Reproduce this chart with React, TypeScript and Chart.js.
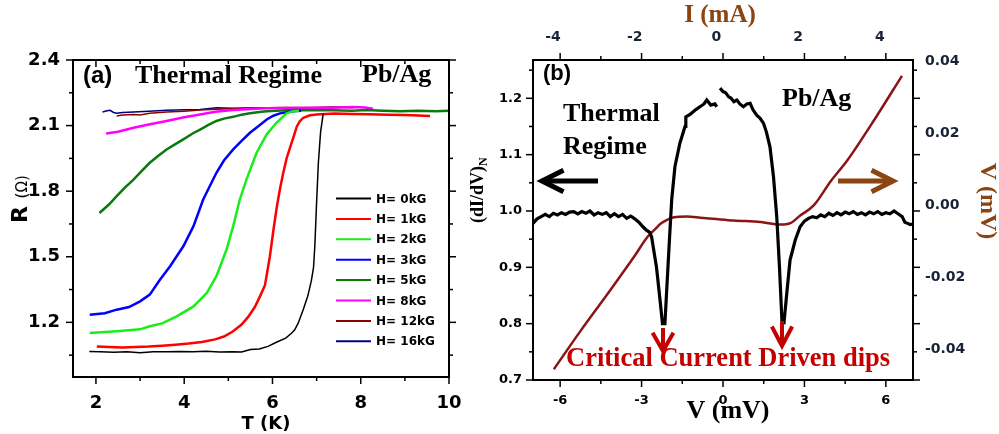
import React, { useEffect, useRef } from "react";
import { Chart, registerables } from "chart.js";
Chart.register(...registerables);

// ---------------- Panel (a): R(T) for several fields ----------------
const FIELD_LABELS = ["H= 0kG", "H= 1kG", "H= 2kG", "H= 3kG", "H= 5kG", "H= 8kG", "H= 12kG", "H= 16kG"];

const T_H0 = [1.85, 2.1, 2.4, 2.7, 3.0, 3.3, 3.6, 3.9, 4.2, 4.5, 4.8, 5.1, 5.3, 5.5, 5.7, 5.9, 6.1, 6.3, 6.43, 6.5, 6.58, 6.7, 6.8, 6.88, 6.93, 6.96, 7.0, 7.04, 7.09, 7.15];
const R_H0 = [1.067, 1.066, 1.063, 1.066, 1.061, 1.066, 1.065, 1.067, 1.066, 1.068, 1.064, 1.066, 1.064, 1.076, 1.078, 1.09, 1.11, 1.128, 1.15, 1.165, 1.195, 1.26, 1.32, 1.39, 1.45, 1.55, 1.75, 1.93, 2.07, 2.155];

const T_H1 = [2.02, 2.3, 2.6, 2.9, 3.2, 3.5, 3.8, 4.1, 4.4, 4.7, 4.9, 5.1, 5.3, 5.45, 5.6, 5.72, 5.83, 5.94, 6.02, 6.1, 6.17, 6.24, 6.32, 6.4, 6.48, 6.55, 6.62, 6.7, 6.85, 7.0, 7.4, 7.8, 8.2, 8.6, 9.0, 9.3, 9.57];
const R_H1 = [1.09, 1.087, 1.085, 1.087, 1.089, 1.093, 1.098, 1.103, 1.11, 1.122, 1.135, 1.158, 1.19, 1.225, 1.27, 1.32, 1.37, 1.5, 1.62, 1.73, 1.81, 1.88, 1.95, 2.0, 2.05, 2.095, 2.12, 2.136, 2.147, 2.151, 2.155, 2.153, 2.152, 2.15, 2.148, 2.146, 2.144];

const T_H2 = [1.86, 2.47, 3.0, 3.22, 3.5, 3.83, 4.21, 4.51, 4.73, 4.96, 5.11, 5.26, 5.41, 5.64, 5.87, 6.09, 6.32, 6.47, 6.6];
const R_H2 = [1.151, 1.159, 1.168, 1.182, 1.195, 1.227, 1.273, 1.334, 1.411, 1.533, 1.64, 1.762, 1.853, 1.976, 2.06, 2.113, 2.156, 2.166, 2.168];

const T_H3 = [1.86, 2.2, 2.47, 2.75, 3.0, 3.22, 3.45, 3.68, 3.98, 4.21, 4.43, 4.73, 4.9, 5.11, 5.3, 5.49, 5.7, 5.87, 6.02, 6.17, 6.47, 6.65];
const R_H3 = [1.235, 1.242, 1.258, 1.27, 1.296, 1.327, 1.395, 1.457, 1.548, 1.64, 1.762, 1.884, 1.94, 1.991, 2.03, 2.067, 2.1, 2.128, 2.145, 2.156, 2.166, 2.168];

const T_H5 = [2.08, 2.3, 2.47, 2.65, 2.85, 3.05, 3.22, 3.4, 3.6, 3.8, 3.98, 4.2, 4.36, 4.55, 4.73, 4.9, 5.11, 5.3, 5.49, 5.7, 5.87, 6.3, 6.62, 7.0, 7.38, 7.8, 8.13, 8.5, 8.89, 9.3, 9.7, 10.0];
const R_H5 = [1.7, 1.74, 1.777, 1.815, 1.853, 1.895, 1.93, 1.96, 1.991, 2.015, 2.037, 2.065, 2.082, 2.103, 2.121, 2.132, 2.14, 2.15, 2.156, 2.162, 2.166, 2.17, 2.171, 2.17, 2.17, 2.168, 2.171, 2.168, 2.166, 2.168, 2.166, 2.168];

const T_H8 = [2.23, 2.5, 2.85, 3.2, 3.6, 4.0, 4.36, 4.7, 5.11, 5.5, 5.87, 6.3, 6.62, 7.0, 7.38, 7.83, 8.1, 8.28];
const R_H8 = [2.064, 2.072, 2.09, 2.105, 2.121, 2.138, 2.151, 2.163, 2.171, 2.176, 2.179, 2.181, 2.182, 2.182, 2.182, 2.185, 2.183, 2.177];

const T_H12 = [2.47, 2.6, 2.85, 3.0, 3.22, 3.6, 4.0, 4.36, 4.7, 5.11, 5.5, 5.87, 6.3, 6.62, 7.0, 7.38, 7.83];
const R_H12 = [2.144, 2.148, 2.151, 2.148, 2.156, 2.162, 2.166, 2.171, 2.175, 2.177, 2.18, 2.182, 2.183, 2.182, 2.183, 2.185, 2.182];

const T_H16 = [2.15, 2.25, 2.32, 2.4, 2.47, 2.6, 2.85, 3.2, 3.6, 4.0, 4.36, 4.73, 5.11, 5.5, 5.87, 6.3, 6.62, 7.0, 7.38, 7.76];
const R_H16 = [2.162, 2.168, 2.17, 2.16, 2.156, 2.16, 2.162, 2.166, 2.17, 2.172, 2.174, 2.182, 2.179, 2.181, 2.182, 2.182, 2.182, 2.182, 2.183, 2.185];

const T_TICKS = [2, 4, 6, 8, 10];
const T_MINOR = [3, 5, 7, 9];
const R_TICKS = [1.2, 1.5, 1.8, 2.1, 2.4];
const R_MINOR = [1.05, 1.35, 1.65, 1.95, 2.25];

// ---------------- Panel (b): conductance and I-V ----------------
const V_COND = [-7.0, -6.85, -6.7, -6.55, -6.4, -6.25, -6.1, -5.95, -5.8, -5.65, -5.5, -5.35, -5.2, -5.05, -4.9, -4.75, -4.6, -4.45, -4.3, -4.15, -4.0, -3.85, -3.7, -3.55, -3.4, -3.25, -3.1, -2.95, -2.82, -2.7, -2.63, -2.55, -2.45, -2.32, -2.23, -2.14, -2.08, -1.98, -1.89, -1.77, -1.59, -1.45, -1.4, -1.37, -1.2, -1.0, -0.85, -0.7, -0.6, -0.45, -0.3, -0.23, -0.17, -0.11, 0.0, 0.1, 0.2, 0.3, 0.4, 0.51, 0.62, 0.75, 0.88, 1.0, 1.1, 1.24, 1.36, 1.49, 1.6, 1.73, 1.86, 1.98, 2.08, 2.17, 2.25, 2.35, 2.47, 2.66, 2.84, 3.0, 3.15, 3.3, 3.45, 3.6, 3.75, 3.9, 4.05, 4.2, 4.35, 4.5, 4.65, 4.8, 4.95, 5.1, 5.25, 5.4, 5.55, 5.7, 5.85, 6.0, 6.15, 6.3, 6.45, 6.6, 6.7, 6.8, 6.9, 7.0];
const G_COND = [0.978, 0.986, 0.99, 0.994, 0.99, 0.996, 0.993, 0.997, 0.994, 0.998, 0.999, 0.995, 0.999, 0.996, 1.0, 0.993, 0.997, 0.994, 0.997, 0.99, 0.995, 0.99, 0.994, 0.987, 0.991, 0.986, 0.98, 0.972, 0.966, 0.962, 0.954, 0.93, 0.9, 0.842, 0.8, 0.8, 0.854, 0.943, 1.02, 1.079, 1.12, 1.142, 1.15, 1.167, 1.172, 1.18, 1.185, 1.19, 1.197, 1.188, 1.19, 1.185, null, 1.218, 1.212, 1.21, 1.203, 1.2, 1.194, 1.197, 1.19, 1.185, 1.19, 1.191, 1.18, 1.17, 1.165, 1.156, 1.14, 1.114, 1.061, 0.99, 0.901, 0.806, 0.803, 0.854, 0.913, 0.948, 0.972, 0.982, 0.987, 0.99, 0.988, 0.993, 0.99, 0.996, 0.992, 0.997, 0.993, 0.998, 0.995, 0.999, 0.994, 0.997, 0.993, 0.998, 0.995, 0.999, 0.994, 0.997, 0.995, 1.0, 0.995, 0.99, 0.98, 0.978, 0.976, 0.977];

const I_IV = [-3.98, -3.3, -2.6, -2.0, -1.69, -1.5, -1.37, -1.21, -1.04, -0.72, -0.39, 0.0, 0.42, 1.08, 1.56, 1.81, 2.05, 2.38, 2.8, 3.2, 3.9, 4.54];
const V_IV = [-0.0456, -0.0345, -0.0236, -0.014, -0.0088, -0.0066, -0.0051, -0.004, -0.0033, -0.0031, -0.0034, -0.0038, -0.0042, -0.0046, -0.0053, -0.0049, -0.0028, 0.0, 0.0068, 0.0125, 0.0245, 0.0361];

const V_TICKS = [-6, -3, 0, 3, 6];
const V_MINOR = [-4.5, -1.5, 1.5, 4.5];
const G_TICKS = [0.7, 0.8, 0.9, 1.0, 1.1, 1.2];
const G_MINOR = [0.75, 0.85, 0.95, 1.05, 1.15, 1.25];
const I_TICKS = [-4, -2, 0, 2, 4];
const VOUT_TICKS = [-0.04, -0.02, 0, 0.02, 0.04];

// ---------------- styles ----------------
const COLORS_A = ["#000000", "#ff0000", "#1aee1a", "#0000ff", "#0a7a0a", "#ff00ff", "#8b0000", "#000080"];
const WIDTHS_A = [1.5, 2.5, 2.5, 2.5, 2.5, 2.5, 1.5, 1.5];
const SANS = '"DejaVu Sans", sans-serif';
const ARIAL = '"Liberation Sans", Arial, sans-serif';
const SERIF = '"Liberation Serif", "Times New Roman", serif';
const BROWN = "#8B4513";
const IV_COLOR = "#8c1414";
const DARK_LABEL = "#1a2238";
const RED_TXT = "#c40000";
const OFF_B = 455;

const ticksAt = (vals: number[]) => (s: any) => {
  s.ticks = vals.map((v) => ({ value: v }));
};
const fixW = (w: number) => (s: any) => {
  s.width = w;
};
const fixH = (h: number) => (s: any) => {
  s.height = h;
};

function line(ctx: CanvasRenderingContext2D, x1: number, y1: number, x2: number, y2: number) {
  ctx.beginPath();
  ctx.moveTo(x1, y1);
  ctx.lineTo(x2, y2);
  ctx.stroke();
}

function frameTicks(
  chart: any,
  xs: any,
  ys: any,
  xMaj: number[],
  xMin: number[],
  yMaj: number[],
  yMin: number[],
  topDir: number
) {
  const ctx: CanvasRenderingContext2D = chart.ctx;
  const a = chart.chartArea;
  ctx.save();
  ctx.strokeStyle = "#000";
  ctx.lineWidth = 2;
  ctx.strokeRect(a.left, a.top, a.right - a.left, a.bottom - a.top);
  ctx.lineWidth = 1.5;
  const doX = (vals: number[], len: number) => {
    for (const v of vals) {
      const p = xs.getPixelForValue(v);
      line(ctx, p, a.bottom, p, a.bottom + len);
      line(ctx, p, a.top, p, a.top - topDir * len);
    }
  };
  const doY = (vals: number[], len: number) => {
    for (const v of vals) {
      const p = ys.getPixelForValue(v);
      line(ctx, a.left, p, a.left - len, p);
      line(ctx, a.right, p, a.right + len, p);
    }
  };
  doX(xMaj, 7);
  doX(xMin, 4);
  doY(yMaj, 7);
  doY(yMin, 4);
  ctx.restore();
}

function arrow(ctx: CanvasRenderingContext2D, x1: number, y1: number, x2: number, y2: number, head: number, spread: number, color: string, lw: number) {
  const ang = Math.atan2(y2 - y1, x2 - x1);
  ctx.save();
  ctx.strokeStyle = color;
  ctx.lineWidth = lw;
  ctx.lineCap = "butt";
  ctx.lineJoin = "miter";
  line(ctx, x1, y1, x2 - Math.cos(ang) * lw, y2 - Math.sin(ang) * lw);
  ctx.beginPath();
  ctx.moveTo(x2 - head * Math.cos(ang - spread), y2 - head * Math.sin(ang - spread));
  ctx.lineTo(x2, y2);
  ctx.lineTo(x2 - head * Math.cos(ang + spread), y2 - head * Math.sin(ang + spread));
  ctx.stroke();
  ctx.restore();
}

const pluginA = {
  id: "decorA",
  afterDatasetsDraw(chart: any) {
    const s = chart.scales;
    frameTicks(chart, s.x, s.y, T_TICKS, T_MINOR, R_TICKS, R_MINOR, -1);
  },
  afterDraw(chart: any) {
    const ctx: CanvasRenderingContext2D = chart.ctx;
    ctx.save();
    ctx.fillStyle = "#000";
    ctx.textAlign = "left";
    ctx.textBaseline = "alphabetic";
    ctx.font = `bold 24px ${ARIAL}`;
    ctx.fillText("(a)", 83, 83);
    ctx.font = `bold 26px ${SERIF}`;
    ctx.fillText("Thermal Regime", 135, 83);
    ctx.fillText("Pb/Ag", 362, 82);
    // legend
    ctx.font = `bold 12px ${SANS}`;
    ctx.textBaseline = "middle";
    FIELD_LABELS.forEach((lab, i) => {
      const y = 198.5 + i * 20.4;
      ctx.strokeStyle = COLORS_A[i];
      ctx.lineWidth = 2;
      line(ctx, 336, y, 371, y);
      ctx.fillStyle = "#000";
      ctx.fillText(lab, 376, y + 1);
    });
    // axis titles
    ctx.textBaseline = "alphabetic";
    ctx.textAlign = "center";
    ctx.font = `bold 18px ${SANS}`;
    ctx.fillText("T (K)", 266, 429);
    ctx.save();
    ctx.translate(27, 223);
    ctx.rotate(-Math.PI / 2);
    ctx.textAlign = "left";
    ctx.font = `bold 22px ${SANS}`;
    ctx.fillText("R", 0, 0);
    const w = ctx.measureText("R ").width;
    ctx.font = `15px ${SANS}`;
    ctx.fillText("(\u03A9)", w, 0);
    ctx.restore();
    ctx.restore();
  },
};

const pluginB = {
  id: "decorB",
  afterDatasetsDraw(chart: any) {
    const s = chart.scales;
    frameTicks(chart, s.x, s.y, V_TICKS, V_MINOR, G_TICKS, G_MINOR, 1);
  },
  afterDraw(chart: any) {
    const ctx: CanvasRenderingContext2D = chart.ctx;
    ctx.save();
    ctx.translate(-OFF_B, 0);
    ctx.fillStyle = "#000";
    ctx.textAlign = "left";
    ctx.textBaseline = "alphabetic";
    ctx.font = `bold 22px ${ARIAL}`;
    ctx.fillText("(b)", 543, 80);
    ctx.font = `bold 26px ${SERIF}`;
    ctx.fillText("Pb/Ag", 782, 106);
    ctx.fillText("Thermal", 563, 121);
    ctx.fillText("Regime", 563, 154);
    ctx.fillStyle = RED_TXT;
    ctx.font = `bold 26.5px ${SERIF}`;
    ctx.fillText("Critical Current Driven dips", 566, 366);
    // axis titles
    ctx.textAlign = "center";
    ctx.fillStyle = "#000";
    ctx.font = `bold 26px ${SERIF}`;
    ctx.fillText("V (mV)", 728, 418);
    ctx.fillStyle = BROWN;
    ctx.font = `bold 25px ${SERIF}`;
    ctx.fillText("I (mA)", 720, 22);
    ctx.save();
    ctx.translate(987, 201);
    ctx.rotate(Math.PI / 2);
    ctx.textBaseline = "middle";
    ctx.font = `bold 24px ${SERIF}`;
    ctx.fillText("V (mV)", 0, 0);
    ctx.restore();
    ctx.save();
    ctx.translate(483, 223);
    ctx.rotate(-Math.PI / 2);
    ctx.textAlign = "left";
    ctx.fillStyle = "#000";
    ctx.font = `bold 18px ${SERIF}`;
    ctx.fillText("(dI/dV)", 0, 0);
    const w = ctx.measureText("(dI/dV)").width;
    ctx.font = `bold 12px ${SERIF}`;
    ctx.fillText("N", w, 4);
    ctx.restore();
    // arrows
    arrow(ctx, 598, 181, 542, 181, 24, 0.46, "#000", 5);
    arrow(ctx, 838, 181, 893, 181, 24, 0.46, BROWN, 5);
    arrow(ctx, 663, 328, 663, 351, 21, 0.52, RED_TXT, 4);
    arrow(ctx, 782, 321, 782, 346, 22, 0.48, RED_TXT, 4);
    ctx.restore();
  },
};

function PanelA() {
  const ref = useRef<HTMLCanvasElement>(null);
  useEffect(() => {
    const series = [
      [T_H0, R_H0],
      [T_H1, R_H1],
      [T_H2, R_H2],
      [T_H3, R_H3],
      [T_H5, R_H5],
      [T_H8, R_H8],
      [T_H12, R_H12],
      [T_H16, R_H16],
    ];
    const tickFont = { family: SANS, size: 18, weight: "bold" as const };
    const chart = new Chart(ref.current!, {
      type: "line",
      data: {
        datasets: series.map(([xs, ys], i) => ({
          label: FIELD_LABELS[i],
          data: xs.map((x, j) => ({ x, y: ys[j] })),
          borderColor: COLORS_A[i],
          borderWidth: WIDTHS_A[i],
          pointRadius: 0,
          fill: false,
          tension: 0,
        })),
      },
      options: {
        animation: false,
        responsive: false,
        maintainAspectRatio: false,
        events: [],
        layout: { padding: { top: 60, right: 31, left: 0, bottom: 0 } },
        plugins: { legend: { display: false }, tooltip: { enabled: false } },
        scales: {
          x: {
            type: "linear",
            position: "bottom",
            min: 1.48,
            max: 10,
            afterBuildTicks: ticksAt(T_TICKS),
            afterFit: fixH(57),
            grid: { display: false, drawTicks: false },
            border: { display: false },
            ticks: { font: tickFont, color: "#000", padding: 16, maxRotation: 0, autoSkip: false, callback: (v: any) => String(v) },
          },
          y: {
            type: "linear",
            position: "left",
            min: 0.95,
            max: 2.4,
            afterBuildTicks: ticksAt(R_TICKS),
            afterFit: fixW(73),
            grid: { display: false, drawTicks: false },
            border: { display: false },
            ticks: { font: tickFont, color: "#000", padding: 13, autoSkip: false, callback: (v: any) => Number(v).toFixed(1) },
          },
        },
      } as any,
      plugins: [pluginA],
    });
    return () => chart.destroy();
  }, []);
  return <canvas ref={ref} width={480} height={434} style={{ position: "absolute", left: 0, top: 0, width: 480, height: 434 }} />;
}

function PanelB() {
  const ref = useRef<HTMLCanvasElement>(null);
  useEffect(() => {
    const f13 = { family: SANS, size: 13, weight: "bold" as const };
    const f14 = { family: SANS, size: 14, weight: "bold" as const };
    const chart = new Chart(ref.current!, {
      type: "line",
      data: {
        datasets: [
          {
            label: "(dI/dV)N",
            data: V_COND.map((x, j) => ({ x, y: G_COND[j] })),
            xAxisID: "x",
            yAxisID: "y",
            borderColor: "#000",
            borderWidth: 3.2,
            pointRadius: 0,
            spanGaps: false,
            tension: 0,
          },
          {
            label: "V",
            data: I_IV.map((x, j) => ({ x, y: V_IV[j] })),
            xAxisID: "xI",
            yAxisID: "yV",
            borderColor: IV_COLOR,
            borderWidth: 2.5,
            pointRadius: 0,
            cubicInterpolationMode: "monotone",
          },
        ],
      },
      options: {
        animation: false,
        responsive: false,
        maintainAspectRatio: false,
        events: [],
        layout: { padding: 0 },
        plugins: { legend: { display: false }, tooltip: { enabled: false } },
        scales: {
          x: {
            type: "linear",
            position: "bottom",
            min: -7,
            max: 7,
            afterBuildTicks: ticksAt(V_TICKS),
            afterFit: fixH(54),
            grid: { display: false, drawTicks: false },
            border: { display: false },
            ticks: { font: f13, color: "#000", padding: 13, maxRotation: 0, autoSkip: false, callback: (v: any) => String(v) },
          },
          xI: {
            type: "linear",
            position: "top",
            min: -4.49,
            max: 4.81,
            afterBuildTicks: ticksAt(I_TICKS),
            afterFit: fixH(60),
            grid: { display: false, drawTicks: false },
            border: { display: false },
            ticks: { font: f14, color: DARK_LABEL, padding: 14, maxRotation: 0, autoSkip: false, callback: (v: any) => String(v) },
          },
          y: {
            type: "linear",
            position: "left",
            min: 0.7,
            max: 1.268,
            afterBuildTicks: ticksAt(G_TICKS),
            afterFit: fixW(78),
            grid: { display: false, drawTicks: false },
            border: { display: false },
            ticks: { font: f13, color: "#000", padding: 11, autoSkip: false, callback: (v: any) => Number(v).toFixed(1) },
          },
          yV: {
            type: "linear",
            position: "right",
            min: -0.0486,
            max: 0.0405,
            afterBuildTicks: ticksAt(VOUT_TICKS),
            afterFit: fixW(86),
            grid: { display: false, drawTicks: false },
            border: { display: false },
            ticks: { font: f14, color: DARK_LABEL, padding: 12, autoSkip: false, callback: (v: any) => Number(v).toFixed(2) },
          },
        },
      } as any,
      plugins: [pluginB],
    });
    return () => chart.destroy();
  }, []);
  return <canvas ref={ref} width={544} height={434} style={{ position: "absolute", left: OFF_B, top: 0, width: 544, height: 434 }} />;
}

export default function App() {
  return (
    <div style={{ position: "fixed", left: 0, top: 0, width: 999, height: 434, background: "#fff", overflow: "hidden" }}>
      <PanelA />
      <PanelB />
    </div>
  );
}
